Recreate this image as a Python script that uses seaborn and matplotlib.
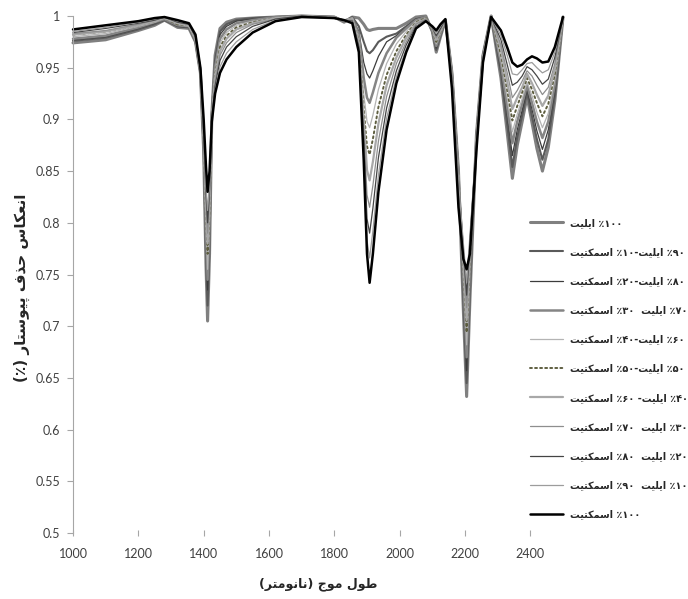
import re
import matplotlib
matplotlib.use("Agg")
import matplotlib.pyplot as plt
import seaborn as sns

# wavelength anchors (nm)
wavelength = [1000, 1100, 1200, 1250, 1280, 1320, 1355, 1375, 1390, 1400,
              1407, 1412, 1418, 1425, 1435, 1450, 1470, 1500, 1550, 1620,
              1700, 1800, 1830, 1855, 1875, 1890, 1900, 1908, 1918, 1935,
              1960, 1990, 2020, 2050, 2080, 2100, 2112, 2125, 2140, 2160,
              2180, 2195, 2205, 2215, 2235, 2255, 2280, 2310, 2330, 2345,
              2360, 2375, 2390, 2405, 2420, 2437, 2455, 2475, 2500]

# continuum removed reflectance
illite_100 = [.974, .977, .986, .991, .996, .989, .988, .975, .945, .870,
              .760, .705, .770, .905, .962, .988, .994, .997, .998, .999,
              1.0, .999, .994, .999, .998, .992, .987, .986, .987, .988,
              .988, .988, .993, .999, 1.0, .985, .965, .980, .996, .945,
              .850, .715, .632, .725, .885, .962, 1.0, .940, .885, .843,
              .875, .898, .922, .897, .872, .850, .873, .918, .999]
mix_90_10 = [.976, .979, .987, .992, .996, .990, .989, .975, .945, .872,
             .772, .720, .780, .905, .958, .985, .992, .996, .998, .999,
             1.0, .999, .995, .999, .990, .975, .966, .964, .967, .975,
             .980, .983, .990, .997, .999, .985, .967, .981, .996, .945,
             .849, .725, .645, .735, .884, .962, 1.0, .945, .893, .854,
             .883, .904, .926, .903, .881, .861, .881, .923, .999]
mix_80_20 = [.977, .980, .988, .993, .997, .990, .989, .976, .946, .875,
             .785, .735, .790, .904, .955, .982, .990, .995, .997, .999,
             1.0, .999, .995, .998, .985, .955, .944, .940, .947, .961,
             .975, .981, .989, .997, .999, .986, .969, .982, .996, .944,
             .848, .735, .657, .745, .883, .961, 1.0, .949, .902, .865,
             .890, .909, .929, .910, .889, .871, .890, .928, .999]
mix_70_30 = [.978, .981, .989, .994, .997, .991, .990, .976, .946, .877,
             .793, .745, .798, .903, .951, .978, .987, .993, .996, .999,
             1.0, .999, .995, .998, .982, .940, .921, .916, .926, .945,
             .964, .979, .988, .996, .999, .986, .971, .983, .996, .944,
             .847, .745, .670, .753, .882, .961, 1.0, .954, .910, .877,
             .898, .915, .933, .916, .898, .882, .898, .934, .999]
mix_60_40 = [.980, .983, .990, .994, .998, .992, .990, .977, .947, .879,
             .800, .755, .805, .902, .947, .974, .984, .991, .995, .998,
             1.0, .999, .996, .998, .979, .925, .898, .892, .904, .929,
             .954, .973, .985, .995, .998, .987, .973, .984, .996, .943,
             .846, .752, .682, .760, .881, .960, 1.0, .958, .919, .888,
             .905, .920, .936, .923, .907, .892, .906, .939, .999]
mix_50_50 = [.982, .985, .991, .995, .998, .992, .991, .978, .947, .881,
             .810, .770, .813, .901, .943, .970, .981, .989, .994, .998,
             1.0, .998, .996, .997, .976, .910, .874, .866, .881, .912,
             .943, .966, .982, .994, .998, .987, .975, .985, .996, .943,
             .845, .758, .694, .766, .880, .960, .999, .963, .927, .899,
             .913, .926, .940, .929, .916, .903, .915, .944, .999]
mix_40_60 = [.982, .985, .991, .995, .998, .993, .991, .978, .948, .883,
             .817, .780, .820, .900, .940, .966, .978, .987, .993, .998,
             1.0, .998, .996, .997, .974, .900, .851, .841, .859, .896,
             .933, .960, .979, .993, .997, .988, .977, .986, .996, .942,
             .844, .764, .706, .772, .879, .959, .999, .968, .935, .910,
             .921, .931, .944, .935, .924, .913, .923, .949, .999]
mix_30_70 = [.983, .986, .992, .996, .999, .994, .992, .979, .948, .885,
             .823, .790, .826, .900, .936, .962, .974, .984, .992, .997,
             1.0, .998, .996, .996, .972, .890, .827, .815, .836, .879,
             .922, .954, .975, .992, .997, .988, .979, .987, .997, .942,
             .843, .770, .718, .778, .878, .959, .999, .972, .944, .921,
             .928, .937, .947, .942, .933, .924, .931, .954, .999]
mix_20_80 = [.984, .988, .993, .996, .999, .994, .992, .980, .949, .887,
             .830, .800, .832, .899, .932, .957, .970, .980, .990, .997,
             1.0, .998, .996, .995, .970, .880, .804, .790, .814, .863,
             .911, .947, .972, .990, .996, .989, .981, .988, .997, .941,
             .842, .775, .730, .783, .877, .958, .999, .977, .952, .933,
             .936, .942, .951, .948, .942, .934, .939, .960, .999]
mix_10_90 = [.985, .989, .994, .997, .999, .995, .993, .981, .949, .889,
             .836, .812, .838, .899, .928, .951, .964, .975, .987, .996,
             .999, .998, .996, .994, .967, .870, .783, .766, .792, .846,
             .901, .941, .968, .989, .996, .989, .983, .990, .997, .941,
             .841, .780, .742, .788, .876, .958, .999, .981, .961, .944,
             .943, .948, .954, .955, .950, .945, .948, .965, .999]
smectite_100 = [.987, .991, .995, .998, .999, .996, .993, .982, .950, .900,
                .855, .830, .850, .898, .925, .945, .958, .970, .984, .995,
                .999, .998, .996, .993, .965, .860, .770, .742, .770, .830,
                .890, .935, .965, .988, .995, .990, .986, .992, .997, .930,
                .815, .765, .755, .770, .870, .955, .999, .986, .969, .955,
                .951, .953, .958, .961, .959, .955, .956, .970, .999]

series = [illite_100, mix_90_10, mix_80_20, mix_70_30, mix_60_40, mix_50_50,
          mix_40_60, mix_30_70, mix_20_80, mix_10_90, smectite_100]

labels = [
    "۱۰۰٪ ایلیت",
    "۹۰٪ ایلیت-۱۰٪ اسمکتیت",
    "۸۰٪ ایلیت-۲۰٪ اسمکتیت",
    "۷۰٪ ایلیت  ۳۰٪ اسمکتیت",
    "۶۰٪ ایلیت-۴۰٪ اسمکتیت",
    "۵۰٪ ایلیت-۵۰٪ اسمکتیت",
    "۴۰٪ ایلیت- ۶۰٪ اسمکتیت",
    "۳۰٪ ایلیت  ۷۰٪ اسمکتیت",
    "۲۰٪ ایلیت  ۸۰٪ اسمکتیت",
    "۱۰٪ ایلیت  ۹۰٪ اسمکتیت",
    "۱۰۰٪ اسمکتیت",
]

colors = ["#808080", "#5a5a5a", "#3c3c3c", "#858585", "#b4b4b4", "#5e5e40",
          "#a8a8a8", "#8e8e8e", "#444444", "#9c9c9c", "#000000"]
widths = [2.2, 1.5, 0.9, 1.8, 0.9, 1.4, 1.6, 0.9, 0.9, 0.9, 1.8]
dotted = (0, (1, 1.6))
linestyles = ["-", "-", "-", "-", "-", dotted, "-", "-", "-", "-", "-"]

# matplotlib has no arabic shaping, so pick contextual forms and reverse
FORMS = {
    "ا": ("\uFE8D", "\uFE8E", None, None),
    "پ": ("\uFB56", "\uFB57", "\uFB58", "\uFB59"),
    "ت": ("\uFE95", "\uFE96", "\uFE97", "\uFE98"),
    "ج": ("\uFE9D", "\uFE9E", "\uFE9F", "\uFEA0"),
    "ح": ("\uFEA1", "\uFEA2", "\uFEA3", "\uFEA4"),
    "ذ": ("\uFEAB", "\uFEAC", None, None),
    "ر": ("\uFEAD", "\uFEAE", None, None),
    "س": ("\uFEB1", "\uFEB2", "\uFEB3", "\uFEB4"),
    "ط": ("\uFEC1", "\uFEC2", "\uFEC3", "\uFEC4"),
    "ع": ("\uFEC9", "\uFECA", "\uFECB", "\uFECC"),
    "ف": ("\uFED1", "\uFED2", "\uFED3", "\uFED4"),
    "ک": ("\uFB8E", "\uFB8F", "\uFB90", "\uFB91"),
    "ل": ("\uFEDD", "\uFEDE", "\uFEDF", "\uFEE0"),
    "م": ("\uFEE1", "\uFEE2", "\uFEE3", "\uFEE4"),
    "ن": ("\uFEE5", "\uFEE6", "\uFEE7", "\uFEE8"),
    "و": ("\uFEED", "\uFEEE", None, None),
    "ی": ("\uFBFC", "\uFBFD", "\uFBFE", "\uFBFF"),
}


def fa(text):
    out = []
    for i, c in enumerate(text):
        if c not in FORMS:
            out.append(c)
            continue
        prev = text[i - 1] if i > 0 else ""
        nxt = text[i + 1] if i + 1 < len(text) else ""
        iso, fin, ini, med = FORMS[c]
        join_prev = prev in FORMS and FORMS[prev][2] is not None
        join_next = ini is not None and nxt in FORMS
        if join_prev and join_next:
            out.append(med)
        elif join_prev:
            out.append(fin)
        elif join_next:
            out.append(ini)
        else:
            out.append(iso)
    vis = "".join(out)[::-1]
    vis = re.sub(r"[0-9۰-۹]+", lambda m: m.group(0)[::-1], vis)
    return vis.translate(str.maketrans("()", ")("))


sns.set_style("white")
plt.rcParams["font.family"] = ["Lato", "DejaVu Sans"]
FA_FONT = ["DejaVu Sans"]

fig, ax = plt.subplots(figsize=(6.88, 5.99), dpi=100)
fig.subplots_adjust(left=73 / 688, right=563 / 688, top=1 - 16 / 599, bottom=1 - 533 / 599)

for vals, col, lw, ls in zip(series, colors, widths, linestyles):
    sns.lineplot(x=wavelength, y=vals, color=col, linewidth=lw, linestyle=ls,
                 ax=ax, clip_on=False, dash_capstyle="round")

ax.set_xlim(1000, 2500)
ax.set_ylim(0.5, 1.0)
xt = list(range(1000, 2401, 200))
ax.set_xticks(xt)
ax.set_xticklabels([str(v) for v in xt])
yt = [0.5 + 0.05 * i for i in range(11)]
ax.set_yticks(yt)
ax.set_yticklabels([f"{v:.2f}".rstrip("0").rstrip(".") for v in yt])

for side in ["top", "right", "bottom"]:
    ax.spines[side].set_visible(False)
ax.spines["left"].set_color("#a6a6a6")
ax.tick_params(axis="y", length=4, width=0.8, color="#a6a6a6", labelsize=9,
               labelcolor="#404040", pad=5, left=True)
ax.tick_params(axis="x", direction="inout", length=5, width=0.8, color="#a6a6a6",
               labelsize=9, labelcolor="#404040", pad=8, bottom=True)

ax.set_xlabel(fa("طول موج (نانومتر)"), family=FA_FONT, fontsize=9, fontweight="bold",
              va="center")
ax.xaxis.set_label_coords(0.5, -0.099)
ax.set_ylabel(fa("انعکاس حذف پیوستار (٪)"), family=FA_FONT, fontsize=11,
              fontweight="bold", va="center", ha="center")
ax.yaxis.set_label_coords(-0.104, 0.474)

handles = ax.get_lines()[:len(labels)]
leg = fig.legend(handles, [fa(s) for s in labels], loc="center left",
                 bbox_to_anchor=(530 / 688, 1 - 368.5 / 599), frameon=False,
                 borderpad=0, borderaxespad=0, handlelength=3.4, handletextpad=0.7,
                 labelspacing=1.97, prop={"family": FA_FONT, "size": 7, "weight": "bold"})

fig.savefig("out.png", dpi=100)
